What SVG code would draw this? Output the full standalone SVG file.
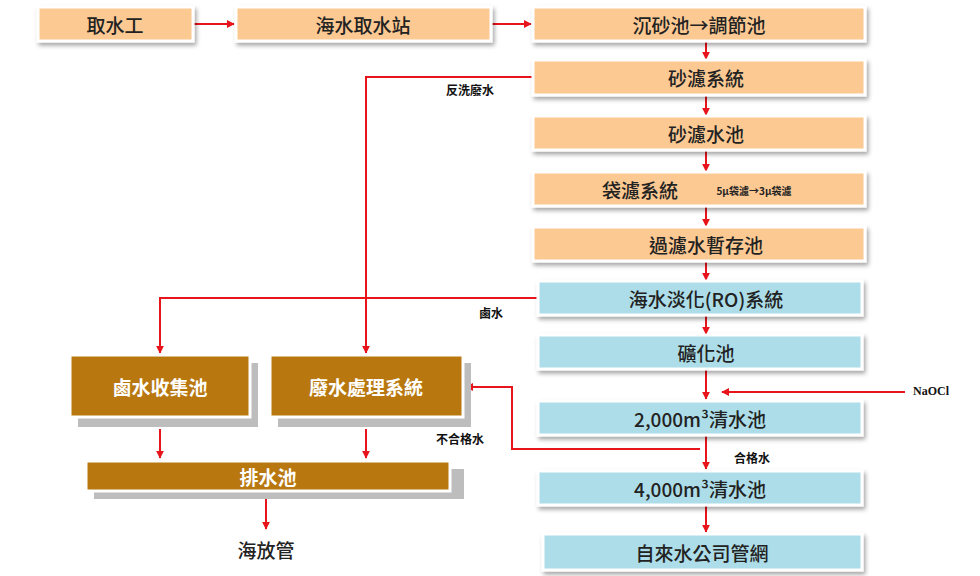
<svg xmlns="http://www.w3.org/2000/svg" width="980" height="576" viewBox="0 0 980 576">
<defs>
<marker id="ah" viewBox="0 0 10 10" refX="9" refY="5" markerWidth="4" markerHeight="4" orient="auto"><path d="M0,0L10,5L0,10z" fill="#e8141b"/></marker>
<filter id="sh" x="-10%" y="-20%" width="130%" height="160%"><feDropShadow dx="2" dy="3" stdDeviation="2" flood-color="#000" flood-opacity="0.35"/></filter>
</defs>
<style>
text{font-family:"Noto Sans CJK TC","Noto Sans",sans-serif;text-anchor:middle;dominant-baseline:central}
.o{fill:#fcc993;stroke:#fff;stroke-width:3;filter:url(#sh)}
.b{fill:#acdde8;stroke:#fff;stroke-width:3;filter:url(#sh)}
.br{fill:#b8780f;stroke:#fff;stroke-width:3}
.gs{fill:#bdbdbd}
.t{font-size:19px;fill:#222;font-weight:500}
.w{font-size:19px;fill:#fff;font-weight:bold}
.l{font-size:12px;fill:#111;font-family:"Noto Sans CJK TC","Liberation Serif",serif;font-weight:bold}
.c{fill:none;stroke:#e8141b;stroke-width:2;marker-end:url(#ah)}
</style>
<g id="connectors">
<path class="c" d="M193,24H234"/>
<path class="c" d="M491,24H531"/>
<path class="c" d="M706,41V59"/>
<path class="c" d="M706,95V115"/>
<path class="c" d="M706,150V171"/>
<path class="c" d="M706,206V226"/>
<path class="c" d="M706,261V280"/>
<path class="c" d="M706,315V334"/>
<path class="c" d="M706,369V399"/>
<path class="c" d="M905,392H722"/>
<path class="c" d="M706,435V469"/>
<path class="c" d="M706,505V532"/>
<path class="c" d="M533,77H366V353"/>
<path class="c" d="M540,298H160V353"/>
<path class="c" d="M700,449H512V387H466"/>
<path class="c" d="M160,429V458"/>
<path class="c" d="M366,429V458"/>
<path class="c" d="M266,497V529"/>
<text class="l" x="470" y="89">反洗廢水</text>
<text class="l" x="491" y="312">鹵水</text>
<text class="l" x="460" y="438">不合格水</text>
<text class="l" x="752" y="457">合格水</text>
<text class="l" x="931" y="391" style="font-family:'Liberation Serif',serif">NaOCl</text>
</g>
<g id="n1"><rect class="o" x="38" y="7" width="155" height="34"/><text class="t" x="115" y="24">取水工</text></g>
<g id="n2"><rect class="o" x="236" y="7" width="255" height="34"/><text class="t" x="363" y="24">海水取水站</text></g>
<g id="n3"><rect class="o" x="533" y="7" width="332" height="34"/><text class="t" x="699" y="24">沉砂池→調節池</text></g>
<g id="n4"><rect class="o" x="533" y="60" width="332" height="35"/><text class="t" x="706" y="77">砂濾系統</text></g>
<g id="n5"><rect class="o" x="533" y="116" width="332" height="34"/><text class="t" x="706" y="133">砂濾水池</text></g>
<g id="n6"><rect class="o" x="533" y="172" width="332" height="34"/><text class="t" x="640" y="189" style="text-anchor:start" x2="0"></text><text class="t" x="640" y="189">袋濾系統</text><text x="754" y="190" style="font-size:10px;font-weight:bold;fill:#222">5μ袋濾→3μ袋濾</text></g>
<g id="n7"><rect class="o" x="533" y="227" width="332" height="34"/><text class="t" x="706" y="244">過濾水暫存池</text></g>
<g id="n8"><rect class="b" x="538" y="281" width="324" height="34"/><text class="t" x="706" y="298">海水淡化(RO)系統</text></g>
<g id="n9"><rect class="b" x="538" y="335" width="324" height="34"/><text class="t" x="706" y="352">礦化池</text></g>
<g id="n10"><rect class="b" x="538" y="401" width="324" height="34"/><text class="t" x="700" y="418">2,000m³清水池</text></g>
<g id="n11"><rect class="b" x="538" y="471" width="324" height="34"/><text class="t" x="700" y="488">4,000m³清水池</text></g>
<g id="n12"><rect class="b" x="543" y="534" width="319" height="36"/><text class="t" x="702" y="552">自來水公司管網</text></g>
<g id="n13"><rect class="gs" x="78" y="363" width="180" height="64"/><rect class="br" x="70" y="355" width="180" height="62"/><text class="w" x="160" y="386">鹵水收集池</text></g>
<g id="n14"><rect class="gs" x="278" y="363" width="193" height="64"/><rect class="br" x="270" y="355" width="193" height="62"/><text class="w" x="366" y="386">廢水處理系統</text></g>
<g id="n15"><rect class="gs" x="94" y="469" width="370" height="30"/><rect class="br" x="86" y="461" width="364" height="30"/><text class="w" x="268" y="476">排水池</text></g>
<g id="n16"><text class="t" x="266" y="549">海放管</text></g>
</svg>
